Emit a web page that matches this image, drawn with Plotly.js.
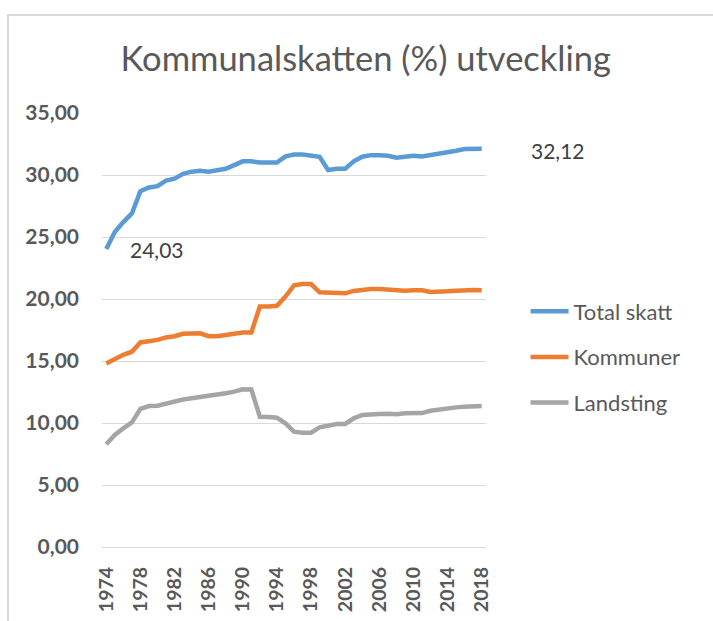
<!DOCTYPE html>
<html>
<head>
<meta charset="utf-8">
<script src="https://cdn.plot.ly/plotly-3.0.1.min.js"></script>
<style>
  html, body { margin: 0; padding: 0; background: #fff; }
  #myDiv { position: absolute; left: 0; top: 0; width: 713px; height: 621px; }
  #frame { position: absolute; left: 7px; top: 14px; right: -5px; bottom: -5px;
           border-left: 2px solid #d9d9d9; border-top: 2px solid #d9d9d9; pointer-events: none; }
</style>
</head>
<body>
<div id="myDiv"></div>
<div id="frame"></div>
<script>
// ------------------------- DATA -------------------------
var years = ['1974','1975','1976','1977','1978','1979','1980','1981','1982','1983',
             '1984','1985','1986','1987','1988','1989','1990','1991','1992','1993',
             '1994','1995','1996','1997','1998','1999','2000','2001','2002','2003',
             '2004','2005','2006','2007','2008','2009','2010','2011','2012','2013',
             '2014','2015','2016','2017','2018'];

var total = [24.03, 25.4, 26.2, 26.9, 28.7, 29.0, 29.1, 29.55, 29.7, 30.1,
             30.27, 30.35, 30.27, 30.4, 30.5, 30.8, 31.1, 31.1, 31.0, 31.0,
             31.0, 31.5, 31.65, 31.65, 31.6, 31.47, 30.4, 30.5, 30.5, 31.1,
             31.47, 31.6, 31.6, 31.55, 31.4, 31.5, 31.55, 31.5, 31.6, 31.7,
             31.85, 31.95, 32.1, 32.1, 32.12];

var kommuner = [14.8, 15.2, 15.5, 15.75, 16.5, 16.6, 16.7, 16.9, 17.0, 17.2,
                17.23, 17.23, 17.0, 17.0, 17.1, 17.2, 17.3, 17.3, 19.4, 19.4,
                19.45, 20.2, 21.1, 21.2, 21.2, 20.54, 20.54, 20.54, 20.46, 20.65,
                20.75, 20.8, 20.8, 20.75, 20.67, 20.67, 20.7, 20.7, 20.56, 20.56,
                20.62, 20.67, 20.72, 20.72, 20.7];

var landsting = [8.28, 9.03, 9.57, 10.05, 11.13, 11.37, 11.4, 11.58, 11.67, 11.9,
                 11.99, 12.07, 12.2, 12.28, 12.4, 12.53, 12.72, 12.7, 10.51, 10.49,
                 10.43, 9.97, 9.3, 9.22, 9.22, 9.65, 9.76, 9.92, 9.92, 10.38,
                 10.65, 10.73, 10.73, 10.75, 10.7, 10.78, 10.8, 10.8, 10.99, 11.1,
                 11.18, 11.26, 11.32, 11.35, 11.37];

var yTicks = [0, 5, 10, 15, 20, 25, 30, 35];
var xTicks = years.filter(function(y, i){ return i % 4 === 0; });

// ------------------------- CHART -------------------------
var FONT = 'Lato, "Open Sans", sans-serif';
var GREY = '#595959';

function fmt(v){ return v.toFixed(2).replace('.', ','); }

var Total = {
  x: years, y: total, type: 'scatter', mode: 'lines', name: 'Total skatt',
  legendgroup: 'a', line: {color: '#5B9BD5', width: 4.5}, hoverinfo: 'name+y'
};
var Kommun = {
  x: years, y: kommuner, type: 'scatter', mode: 'lines', name: 'Kommuner',
  legendgroup: 'b', line: {color: '#ED7D31', width: 4.5}, hoverinfo: 'name+y'
};
var Lands = {
  x: years, y: landsting, type: 'scatter', mode: 'lines', name: 'Landsting',
  legendgroup: 'c', line: {color: '#A5A5A5', width: 4.5}, hoverinfo: 'name+y'
};

var last = years.length - 1;

var layout = {
  width: 713,
  height: 621,
  margin: {l: 102, r: 227, t: 113, b: 74},
  paper_bgcolor: '#fff',
  plot_bgcolor: '#fff',
  separators: ', ',
  title: {
    text: 'Kommunalskatten (%) utveckling',
    font: {family: FONT, size: 34.5, color: GREY},
    x: 0.513, xanchor: 'center', y: 0.905, yanchor: 'middle'
  },
  xaxis: {
    type: 'category',
    range: [-0.5, years.length - 0.5],
    tickmode: 'array',
    tickvals: xTicks,
    ticktext: xTicks,
    tickangle: -90,
    ticks: '',
    showgrid: false,
    showline: false,
    zeroline: false,
    ticklabelstandoff: 15,
    tickfont: {family: FONT, size: 19.5, color: GREY, weight: 'bold'}
  },
  yaxis: {
    range: [0, 35],
    tickmode: 'array',
    tickvals: yTicks,
    tickformat: '.2f',
    ticks: '',
    showgrid: true,
    gridcolor: '#d9d9d9',
    gridwidth: 1,
    zeroline: true,
    zerolinecolor: '#d9d9d9',
    zerolinewidth: 1,
    showline: false,
    ticklabelstandoff: 22,
    tickfont: {family: FONT, size: 21, color: GREY, weight: 'bold'}
  },
  showlegend: true,
  legend: {
    x: 1.103, xanchor: 'left',
    y: 0.591, yanchor: 'top',
    traceorder: 'grouped',
    tracegroupgap: 14,
    itemwidth: 38,
    font: {family: FONT, size: 22, color: GREY},
    bgcolor: 'rgba(0,0,0,0)'
  },
  annotations: [
    {
      x: 0, y: total[0], xref: 'x', yref: 'y',
      text: fmt(total[0]), showarrow: false,
      xanchor: 'left', yanchor: 'middle', xshift: 22, yshift: 0,
      font: {family: FONT, size: 21, color: '#404040'}
    },
    {
      x: last, y: total[last], xref: 'x', yref: 'y',
      text: fmt(total[last]), showarrow: false,
      xanchor: 'left', yanchor: 'middle', xshift: 47, yshift: -2,
      font: {family: FONT, size: 21, color: '#404040'}
    }
  ]
};

Plotly.newPlot('myDiv', [Total, Kommun, Lands], layout, {displayModeBar: false, staticPlot: true});
</script>
</body>
</html>
